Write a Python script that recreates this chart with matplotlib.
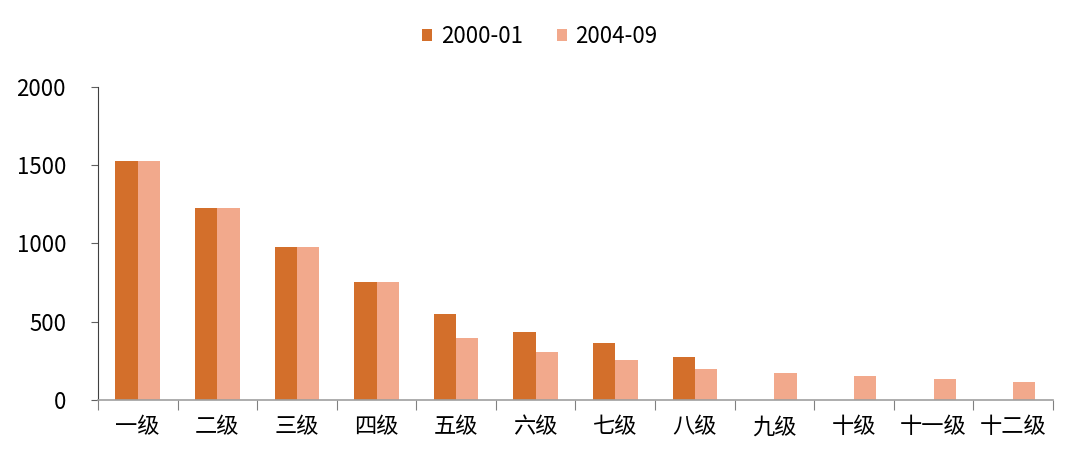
import numpy as np
import matplotlib.pyplot as plt

plt.rcParams['font.family'] = ['Noto Sans CJK SC', 'DejaVu Sans']

# Datos
categorias = ['一级', '二级', '三级', '四级', '五级', '六级',
              '七级', '八级', '九级', '十级', '十一级', '十二级']
serie_2000 = [1530, 1225, 975, 752, 550, 433, 362, 273, 0, 0, 0, 0]
serie_2004 = [1530, 1225, 975, 752, 393, 305, 254, 195, 172, 155, 135, 115]
nombres = ['2000-01', '2004-09']

color_oscuro = '#D36F2B'
color_claro = '#F2A98C'

fig = plt.figure(figsize=(10.8, 4.62), dpi=100)
ax = fig.add_axes([0.0907, 0.1342, 0.8843, 0.6775])

x = np.arange(len(categorias))
ancho = 0.28
ax.bar(x - ancho / 2, serie_2000, ancho, color=color_oscuro, label=nombres[0])
ax.bar(x + ancho / 2, serie_2004, ancho, color=color_claro, label=nombres[1])

ax.set_xlim(-0.5, len(categorias) - 0.5)
ax.set_ylim(0, 2000)
ax.set_yticks([0, 500, 1000, 1500, 2000])

# Marcas del eje x entre categorías
ax.set_xticks(np.arange(len(categorias) + 1) - 0.5)
ax.set_xticklabels([])
ax.set_xticks(x, minor=True)
ax.set_xticklabels(categorias, minor=True, fontsize=16)
ax.tick_params(axis='x', which='minor', length=0, pad=11)
ax.tick_params(axis='x', which='major', length=7, color='#808080', direction='out')
ax.tick_params(axis='y', length=5, color='#606060', labelsize=16, pad=18)

for s in ['top', 'right']:
    ax.spines[s].set_visible(False)
ax.spines['left'].set_color('#404040')
ax.spines['bottom'].set_color('#A0A0A0')
ax.spines['bottom'].set_linewidth(1.2)

fig.legend(loc='upper center', bbox_to_anchor=(0.5, 0.99), ncol=2, frameon=False,
           fontsize=16, handlelength=0.45, handleheight=0.45, handletextpad=0.4,
           columnspacing=1.5)

fig.savefig('out.png', dpi=100)
